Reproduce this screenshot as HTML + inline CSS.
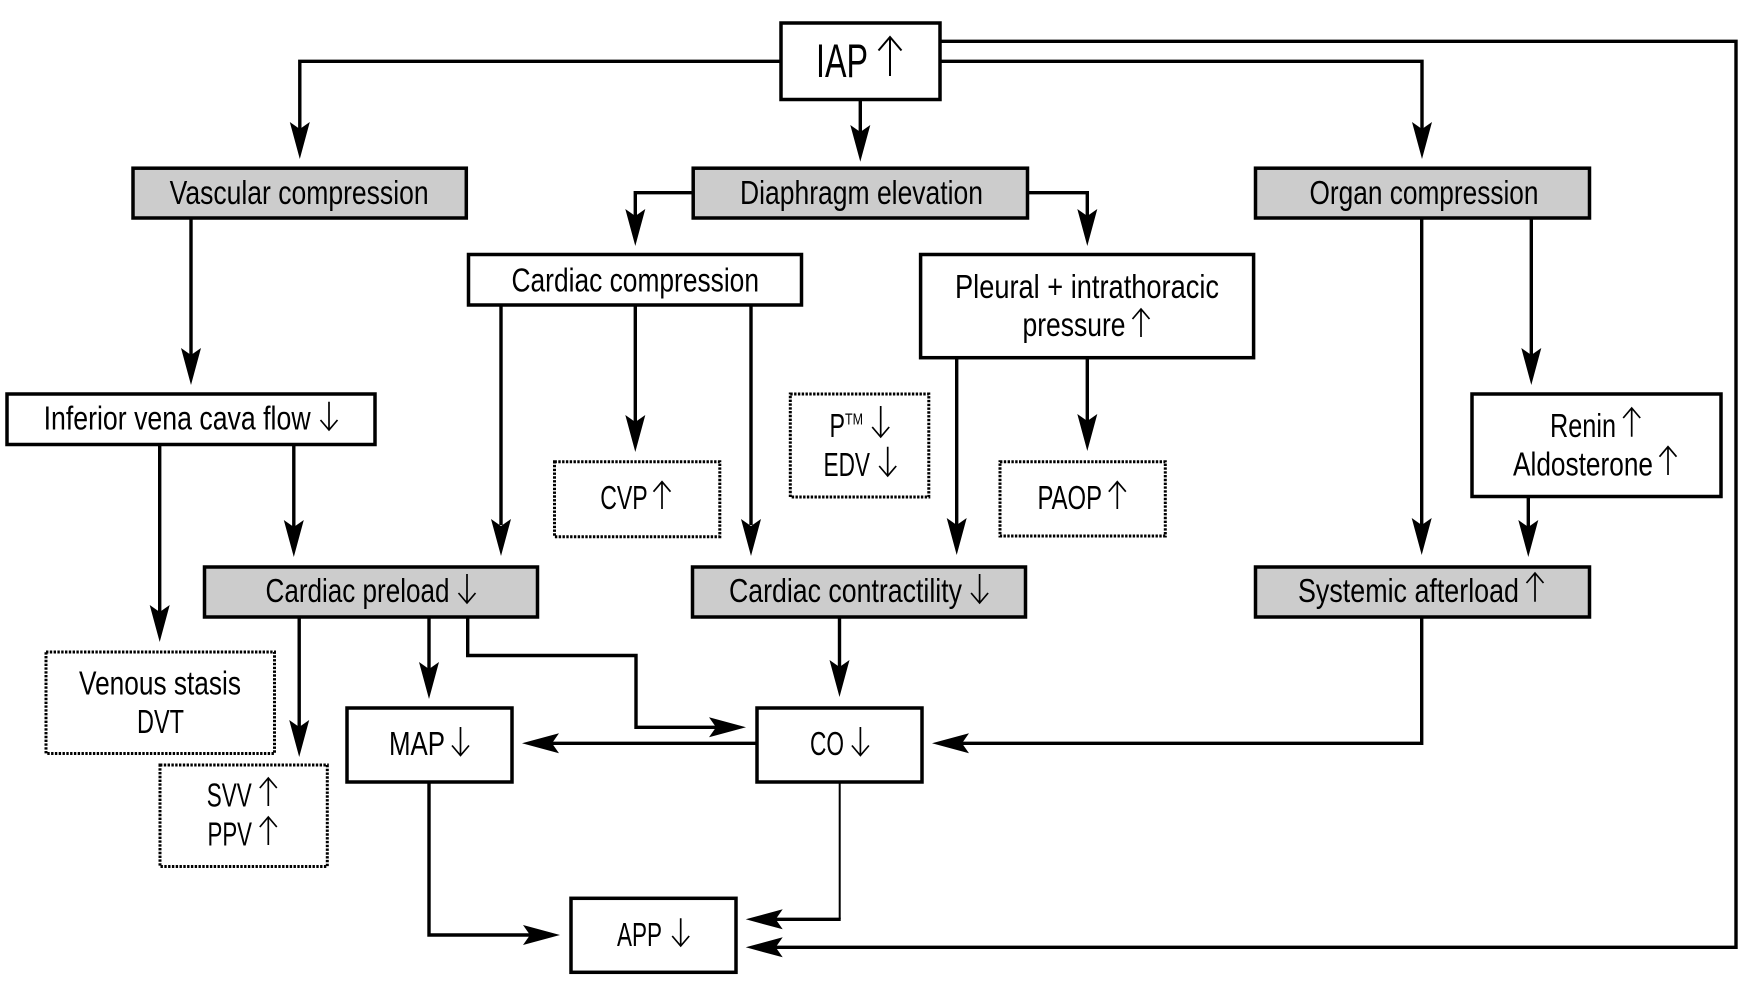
<!DOCTYPE html>
<html>
<head>
<meta charset="utf-8">
<style>
html,body{margin:0;padding:0;background:#fff;width:1747px;height:989px;overflow:hidden}
svg{display:block}
text{font-family:"Liberation Sans",sans-serif;font-size:33px;fill:#000}
.b{fill:#fff;stroke:#000;stroke-width:3.5}
.g{fill:#ccc;stroke:#000;stroke-width:3.5}
.d{fill:#fff;stroke:#000;stroke-width:3;stroke-dasharray:2.4 1.4}
.l{fill:none;stroke:#000;stroke-width:3.4;stroke-linejoin:miter}
.a{fill:none;stroke:#000;stroke-width:1.7}
</style>
</head>
<body>
<svg width="1747" height="989" viewBox="0 0 1747 989" xmlns="http://www.w3.org/2000/svg">
<rect width="1747" height="989" fill="#fff"/>

<!-- connectors -->
<path class="l" d="M781 61.3H299.8V130"/>
<path class="l" d="M860.3 100V135"/>
<path class="l" d="M940 61.3H1422V130"/>
<path class="l" d="M940 41.3H1736V947.3H770"/>
<path class="l" d="M693 192.7H635.3V220"/>
<path class="l" d="M1028 192.7H1087.3V220"/>
<path class="l" d="M191 218V355"/>
<path class="l" d="M501 305V525"/>
<path class="l" d="M635.3 305V425"/>
<path class="l" d="M751 305V525"/>
<path class="l" d="M956.7 358V525"/>
<path class="l" d="M1087.3 358V425"/>
<path class="l" d="M1421.7 218V525"/>
<path class="l" d="M1531.3 218V355"/>
<path class="l" d="M1528.3 497V530"/>
<path class="l" d="M159.7 445V612"/>
<path class="l" d="M293.8 445V530"/>
<path class="l" d="M299.2 617V730"/>
<path class="l" d="M429 617V672"/>
<path class="l" d="M467.7 617V655.5H636V727.3H720"/>
<path class="l" d="M839.5 617V670"/>
<path class="l" d="M757 743.3H548"/>
<path class="l" d="M1421.7 617V743.3H958"/>
<path class="l" d="M429 782V935H535"/>
<path d="M839.7 782V919.3" fill="none" stroke="#000" stroke-width="2"/>
<path class="l" d="M840.7 919.3H770"/>

<!-- arrowheads down -->
<polygon points="299.8,159 289.8,122 299.8,129 309.8,122"/>
<polygon points="860.3,161.7 850.3,125 860.3,132 870.3,125"/>
<polygon points="1422,159 1412,122 1422,129 1432,122"/>
<polygon points="635.3,246 625.3,209 635.3,216 645.3,209"/>
<polygon points="1087.3,246 1077.3,209 1087.3,216 1097.3,209"/>
<polygon points="191,385 181,348 191,355 201,348"/>
<polygon points="501,556 491,519 501,526 511,519"/>
<polygon points="635.3,452 625.3,415 635.3,422 645.3,415"/>
<polygon points="751,556 741,519 751,526 761,519"/>
<polygon points="956.7,555 946.7,518 956.7,525 966.7,518"/>
<polygon points="1087.3,451 1077.3,414 1087.3,421 1097.3,414"/>
<polygon points="1421.7,555 1411.7,518 1421.7,525 1431.7,518"/>
<polygon points="1531.3,385 1521.3,348 1531.3,355 1541.3,348"/>
<polygon points="1528.3,557 1518.3,520 1528.3,527 1538.3,520"/>
<polygon points="159.7,642 149.7,605 159.7,612 169.7,605"/>
<polygon points="293.8,557 283.8,520 293.8,527 303.8,520"/>
<polygon points="299.2,757 289.2,720 299.2,727 309.2,720"/>
<polygon points="429,699 419,662 429,669 439,662"/>
<polygon points="839.5,697 829.5,660 839.5,667 849.5,660"/>

<!-- arrowheads horizontal -->
<polygon points="746,727.3 709,717.3 716,727.3 709,737.3"/>
<polygon points="522,743.3 559,733.3 552,743.3 559,753.3"/>
<polygon points="932,743.3 969,733.3 962,743.3 969,753.3"/>
<polygon points="560,935 523,925 530,935 523,945"/>
<polygon points="745.7,919.3 782.7,909.3 775.7,919.3 782.7,929.3"/>
<polygon points="745.7,947.3 782.7,937.3 775.7,947.3 782.7,957.3"/>

<!-- solid boxes -->
<rect class="b" x="781" y="23" width="159" height="76.5"/>
<rect class="g" x="133" y="168.2" width="333.3" height="49.8"/>
<rect class="g" x="693.2" y="168.2" width="334.3" height="49.8"/>
<rect class="g" x="1255.5" y="168.2" width="334" height="49.8"/>
<rect class="b" x="468.5" y="254.5" width="333" height="50.5"/>
<rect class="b" x="920.6" y="254.5" width="333" height="103.2"/>
<rect class="b" x="7" y="394" width="368" height="50.5"/>
<rect class="b" x="1472" y="394" width="249" height="102.5"/>
<rect class="g" x="204.5" y="567" width="333" height="50"/>
<rect class="g" x="692.5" y="567" width="333" height="50"/>
<rect class="g" x="1255.5" y="567" width="334" height="50"/>
<rect class="b" x="347" y="708" width="165" height="74"/>
<rect class="b" x="757" y="708" width="165" height="74"/>
<rect class="b" x="571" y="898.3" width="165" height="74"/>

<!-- dotted boxes -->
<rect class="d" x="46" y="652" width="228.5" height="101.5"/>
<rect class="d" x="160" y="765" width="167.3" height="101.5"/>
<rect class="d" x="790.3" y="394" width="138.5" height="103"/>
<rect class="d" x="1000" y="461.7" width="165.3" height="74.3"/>
<rect class="d" x="554.5" y="461.7" width="165.3" height="75"/>

<!-- labels -->
<text x="816" y="77" style="font-size:47px" textLength="52" lengthAdjust="spacingAndGlyphs">IAP</text>
<text x="169.6" y="204" textLength="259" lengthAdjust="spacingAndGlyphs">Vascular compression</text>
<text x="740" y="204" textLength="243" lengthAdjust="spacingAndGlyphs">Diaphragm elevation</text>
<text x="1309.5" y="204" textLength="229" lengthAdjust="spacingAndGlyphs">Organ compression</text>
<text x="511.5" y="291.5" textLength="247.5" lengthAdjust="spacingAndGlyphs">Cardiac compression</text>
<text x="955" y="298" textLength="264" lengthAdjust="spacingAndGlyphs">Pleural + intrathoracic</text>
<text x="1022.5" y="336" textLength="103" lengthAdjust="spacingAndGlyphs">pressure</text>
<text x="43.6" y="429.5" textLength="267" lengthAdjust="spacingAndGlyphs">Inferior vena cava flow</text>
<text x="1550" y="437" textLength="66" lengthAdjust="spacingAndGlyphs">Renin</text>
<text x="1513" y="475.5" textLength="140" lengthAdjust="spacingAndGlyphs">Aldosterone</text>
<text x="829.5" y="437" textLength="15.5" lengthAdjust="spacingAndGlyphs">P</text>
<text x="845" y="424.5" style="font-size:16px" textLength="18" lengthAdjust="spacingAndGlyphs">TM</text>
<text x="823.5" y="476" textLength="46.5" lengthAdjust="spacingAndGlyphs">EDV</text>
<text x="1037.5" y="509" textLength="64.5" lengthAdjust="spacingAndGlyphs">PAOP</text>
<text x="600.2" y="509" textLength="47.5" lengthAdjust="spacingAndGlyphs">CVP</text>
<text x="265.5" y="602" textLength="184" lengthAdjust="spacingAndGlyphs">Cardiac preload</text>
<text x="729" y="602" textLength="233" lengthAdjust="spacingAndGlyphs">Cardiac contractility</text>
<text x="1298" y="602" textLength="221" lengthAdjust="spacingAndGlyphs">Systemic afterload</text>
<text x="79" y="694.5" textLength="162" lengthAdjust="spacingAndGlyphs">Venous stasis</text>
<text x="137" y="733" textLength="47" lengthAdjust="spacingAndGlyphs">DVT</text>
<text x="206.8" y="806.5" textLength="45" lengthAdjust="spacingAndGlyphs">SVV</text>
<text x="207.5" y="845.5" textLength="44.5" lengthAdjust="spacingAndGlyphs">PPV</text>
<text x="389" y="755" textLength="56" lengthAdjust="spacingAndGlyphs">MAP</text>
<text x="810" y="755" textLength="34" lengthAdjust="spacingAndGlyphs">CO</text>
<text x="617" y="946.2" textLength="45" lengthAdjust="spacingAndGlyphs">APP</text>

<!-- up arrows -->
<path class="a" style="stroke-width:2" d="M890 37V76M878.5 50.5L890 37L901.5 50.5"/>
<path class="a" d="M1141 309V337M1132.5 319L1141 309L1149.5 319"/>
<path class="a" d="M1631.7 408V436.7M1623.2 418L1631.7 408L1640.2 418"/>
<path class="a" d="M1668 446.7V475M1659.5 456.7L1668 446.7L1676.5 456.7"/>
<path class="a" d="M1117.3 481.7V509M1108.8 491.7L1117.3 481.7L1125.8 491.7"/>
<path class="a" d="M662 481.7V509M653.5 491.7L662 481.7L670.5 491.7"/>
<path class="a" d="M1535 573V601.7M1526.5 583L1535 573L1543.5 583"/>
<path class="a" d="M268.3 778V806M259.8 788L268.3 778L276.8 788"/>
<path class="a" d="M268.3 817V845M259.8 827L268.3 817L276.8 827"/>

<!-- down arrows -->
<path class="a" d="M329 401.7V430M320.5 420L329 430L337.5 420"/>
<path class="a" d="M880.7 406V437M872.2 427L880.7 437L889.2 427"/>
<path class="a" d="M887.7 446.7V476M879.2 466L887.7 476L896.2 466"/>
<path class="a" d="M467 574V603M458.5 593L467 603L475.5 593"/>
<path class="a" d="M979.6 574V603M971.1 593L979.6 603L988.1 593"/>
<path class="a" d="M460.5 727V755.5M452 745.5L460.5 755.5L469 745.5"/>
<path class="a" d="M860.4 727V755.5M851.9 745.5L860.4 755.5L868.9 745.5"/>
<path class="a" d="M680.7 918.3V946M672.2 936L680.7 946L689.2 936"/>
</svg>
</body>
</html>
